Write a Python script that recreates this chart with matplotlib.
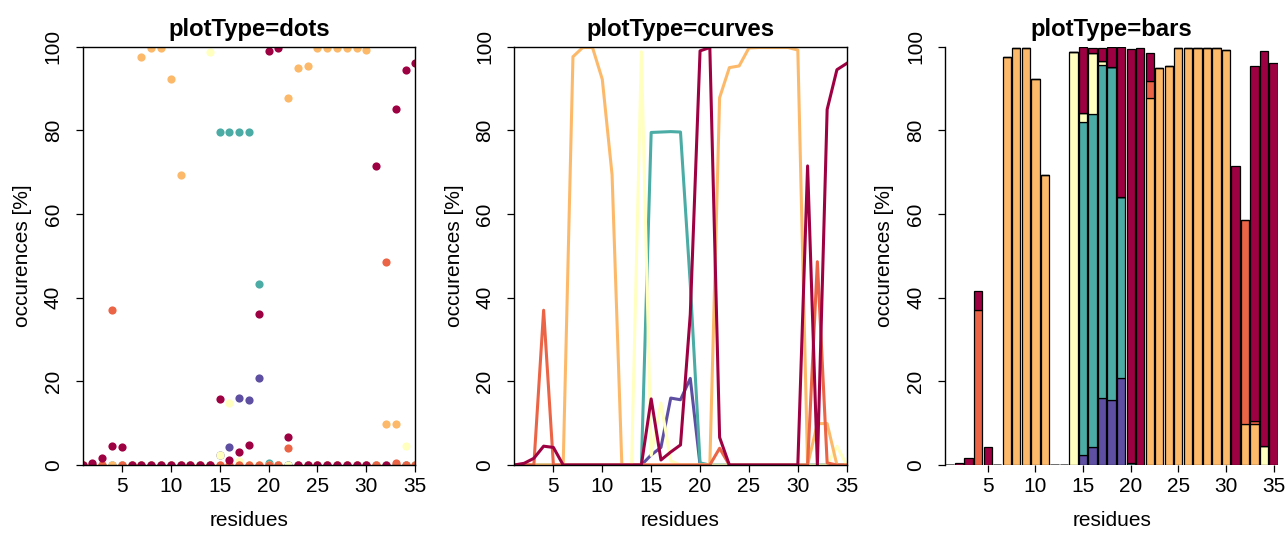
import numpy as np
import matplotlib.pyplot as plt

# Data: occurrence (%) of each class per residue, residues 1..35
residues = np.arange(1, 36)

purple = np.zeros(35)
teal = np.zeros(35)
yellow = np.zeros(35)
orange = np.zeros(35)
red = np.zeros(35)
darkred = np.zeros(35)

purple_vals = {15: 2.4, 16: 4.2, 17: 16.0, 18: 15.6, 19: 20.7}
teal_vals = {15: 79.5, 16: 79.6, 17: 79.7, 18: 79.6, 19: 43.3, 20: 0.5}
yellow_vals = {14: 98.8, 15: 2.3, 16: 14.8, 17: 1.0, 34: 4.5}
orange_vals = {7: 97.6, 8: 99.8, 9: 99.8, 10: 92.2, 11: 69.4, 22: 87.8,
               23: 95.0, 24: 95.4, 25: 99.7, 26: 99.8, 27: 99.8, 28: 99.8,
               29: 99.8, 30: 99.2, 32: 9.9, 33: 9.9}
red_vals = {4: 37.0, 22: 4.0, 32: 48.6, 33: 0.5}
darkred_vals = {2: 0.4, 3: 1.6, 4: 4.5, 5: 4.2, 15: 15.8, 16: 1.2, 17: 3.1,
                18: 4.8, 19: 36.0, 20: 99.0, 21: 99.8, 22: 6.6, 31: 71.5,
                33: 85.0, 34: 94.5, 35: 96.0}

for arr, vals in [(purple, purple_vals), (teal, teal_vals),
                  (yellow, yellow_vals), (orange, orange_vals),
                  (red, red_vals), (darkred, darkred_vals)]:
    for k, v in vals.items():
        arr[k - 1] = v

series = [purple, teal, yellow, orange, red, darkred]
colors = ["#5E4FA2", "#4BACA6", "#FFFFBF", "#FDB96A", "#EB6445", "#9E0142"]

TITLES = ["plotType=dots", "plotType=curves", "plotType=bars"]
Y_LABEL = "occurences [%]"
X_LABEL = "residues"

# Figure / layout
plt.rcParams['font.family'] = ['Liberation Sans', 'DejaVu Sans']
W, H = 1285, 535
fig = plt.figure(figsize=(W / 100, H / 100), dpi=100)

TOP, BOTTOM = 46.7, 465.0
LABEL_SIZE = 15
TITLE_SIZE = 17.2


def axes_rect(left, right):
    return [left / W, (H - BOTTOM) / H, (right - left) / W, (BOTTOM - TOP) / H]


ax1 = fig.add_axes(axes_rect(82.7, 415.3))
ax2 = fig.add_axes(axes_rect(514.3, 846.7))
ax3 = fig.add_axes(axes_rect(945.0, 1278.4))

# dots
for s, c in zip(series, colors):
    ax1.plot(residues, s, 'o', color=c, markersize=5.9, markeredgewidth=0)
ax1.set_xlim(1, 35)

# curves
for s, c in zip(series, colors):
    ax2.plot(residues, s, '-', color=c, linewidth=2.2)
ax2.set_xlim(1, 35)

# bars (stacked)
bottom = np.zeros(35)
for s, c in zip(series, colors):
    ax3.bar(residues, s, width=0.87, bottom=bottom, color=c,
            edgecolor="black", linewidth=0.9)
    bottom += s
ax3.set_xlim(0.52, 35.5)
for side in ["top", "right"]:
    ax3.spines[side].set_visible(False)
ax3.spines["left"].set_bounds(0, 100)
ax3.spines["bottom"].set_visible(False)

for ax, title in zip([ax1, ax2, ax3], TITLES):
    ax.set_ylim(0, 100)
    ax.set_xticks([5, 10, 15, 20, 25, 30, 35])
    ax.set_yticks([0, 20, 40, 60, 80, 100])
    ax.tick_params(direction="out", length=5.3, width=0.9,
                   labelsize=LABEL_SIZE, colors="black")
    ax.tick_params(axis="x", pad=3.0)
    ax.tick_params(axis="y", pad=9.0)
    for lab in ax.get_yticklabels():
        lab.set_rotation(90)
        lab.set_va("center")
    for sp in ax.spines.values():
        sp.set_linewidth(1.0)
    ax.set_title(title, fontsize=TITLE_SIZE, fontweight="bold", pad=8.0)
    ax.set_xlabel(X_LABEL, fontsize=LABEL_SIZE, labelpad=11)
    ax.set_ylabel(Y_LABEL, fontsize=LABEL_SIZE, labelpad=8.5)

fig.savefig("out.png", dpi=100)
